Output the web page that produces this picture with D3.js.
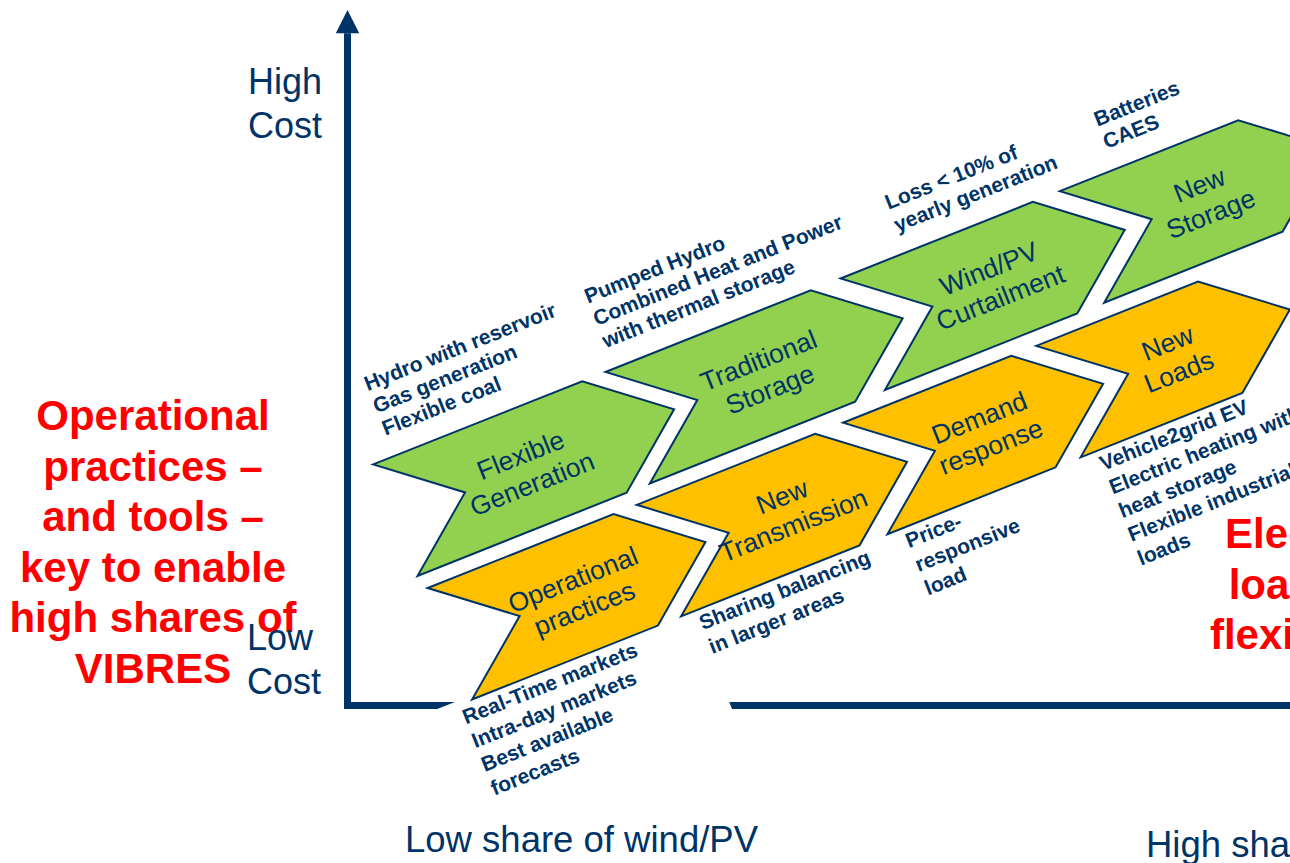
<!DOCTYPE html>
<html>
<head>
<meta charset="utf-8">
<script src="https://cdn.jsdelivr.net/npm/d3@7"></script>
<style>
  html, body { margin: 0; padding: 0; background: #fff; }
  svg { display: block; font-family: "Liberation Sans", Arial, Helvetica, sans-serif; }
</style>
</head>
<body>
<div id="chart"></div>
<script>
// Flexibility options along the path of increasing wind/PV share (0–100 along the band)
const supplyLabels = [["Flexible", "Generation"], ["Traditional", "Storage"], ["Wind/PV", "Curtailment"], ["New", "Storage"]];
const supplyStart  = [2.5, 27.5, 52.8, 76.4];
const supplyEnd    = [25.0, 49.6, 73.5, 95.6];
const supplyNotes  = [
  ["Hydro with reservoir", "Gas generation", "Flexible coal"],
  ["Pumped Hydro", "Combined Heat and Power", "with thermal storage"],
  ["Loss < 10% of", "yearly generation"],
  ["Batteries", "CAES"]
];
const supplyNoteAt = [4.7, 28.4, 59.8, 82.3];

const gridLabels = [["Operational", "practices"], ["New", "Transmission"], ["Demand", "response"], ["New", "Loads"]];
const gridStart  = [3.0, 25.5, 47.7, 68.5];
const gridEnd    = [23.0, 44.7, 65.8, 85.9];
const gridNotes  = [
  ["Real-Time markets", "Intra-day markets", "Best available", "forecasts"],
  ["Sharing balancing", "in larger areas"],
  ["Price-", "responsive", "load"],
  ["Vehicle2grid EV", "Electric heating with", "heat storage", "Flexible industrial", "loads"]
];
const gridNoteAt = [1.5, 27.0, 49.2, 70.1];

const rowNames = ["supply", "grid"];
const costLabelsHigh = ["High", "Cost"];
const costLabelsLow  = ["Low", "Cost"];
const shareLabels    = ["Low share of wind/PV", "High share of wind/PV"];
const leftMessage  = ["Operational", "practices \u2013", "and tools \u2013", "key to enable", "high shares of", "VIBRES"];
const rightMessage = ["Electric", "loads \u2013", "flexibility"];

// ---- layout ----
const W = 1290, HGT = 863;
const NAVY = "#003366", GREEN = "#92D050", ORANGE = "#FFC000", RED = "#FF0000";
const ANGLE = -21.7;          // tilt of the staircase band
const CH = 120, TIP = 75;     // chevron thickness and point depth (band units)
const TITLE_SHIFT = { supply: [28, 36, 38, 36], grid: [38, 42, 38, 36] };

const along = d3.scaleLinear().domain([0, 100]).range([150, 1150]);
const rowY  = d3.scaleOrdinal().domain(rowNames).range([569.5, 704.5]);

const axisX = d3.scaleLinear().domain([0, 1]).range([347.5, 1295]);
const axisY = d3.scaleLinear().domain([0, 1]).range([705.5, 33.3]);

const svg = d3.select("#chart").append("svg")
  .attr("width", W).attr("height", HGT).attr("viewBox", `0 0 ${W} ${HGT}`);

// ---- axes ----
const axes = svg.append("g");
axes.append("path")
  .attr("d", `M${axisX(0)},${axisY(0) + 3.5} L${axisX(0)},${axisY(1)}`)
  .attr("stroke", NAVY).attr("stroke-width", 7).attr("fill", "none");
axes.append("path")
  .attr("d", `M${axisX(0) - 3.5},${axisY(0)} L${axisX(1)},${axisY(0)}`)
  .attr("stroke", NAVY).attr("stroke-width", 7).attr("fill", "none");
axes.append("path")
  .attr("d", `M${axisX(0) - 11.7},${axisY(1)} L${axisX(0)},10 L${axisX(0) + 11.7},${axisY(1)} Z`)
  .attr("fill", NAVY);

// ---- tilted band ----
const band = svg.append("g").attr("transform", `rotate(${ANGLE})`);

const supply = supplyLabels.map((l, i) => ({ row: "supply", i, label: l, s: supplyStart[i], e: supplyEnd[i], notes: supplyNotes[i], noteAt: supplyNoteAt[i], fill: GREEN }));
const grid = gridLabels.map((l, i) => ({ row: "grid", i, label: l, s: gridStart[i], e: gridEnd[i], notes: gridNotes[i], noteAt: gridNoteAt[i], fill: ORANGE }));
const items = supply.concat(grid);

// white backing of the note blocks under the lower row
band.append("g").selectAll("rect").data(grid).join("rect")
  .attr("x", d => along(d.noteAt) - 25)
  .attr("y", d => rowY(d.row) + CH - 4)
  .attr("width", 278)
  .attr("height", d => d.notes.length * 25.5 + 15)
  .attr("fill", "#fff");

function chevron(d) {
  const x0 = along(d.s), x1 = along(d.e), y0 = rowY(d.row);
  return [
    [x0, y0], [x1, y0], [x1 + TIP, y0 + CH / 2], [x1, y0 + CH], [x0, y0 + CH], [x0 + TIP, y0 + CH / 2]
  ];
}

band.append("g").selectAll("path").data(items).join("path")
  .attr("d", d => "M" + chevron(d).map(p => p.join(",")).join("L") + "Z")
  .attr("fill", d => d.fill)
  .attr("stroke", NAVY)
  .attr("stroke-width", 2)
  .attr("stroke-linejoin", "miter");

// chevron titles
const titleX = d => (along(d.s) + along(d.e)) / 2 + TITLE_SHIFT[d.row][d.i];
const titles = band.append("g").selectAll("text").data(items).join("text")
  .attr("text-anchor", "middle")
  .attr("fill", NAVY)
  .attr("font-size", 26.5)
  .attr("x", titleX)
  .attr("y", d => rowY(d.row) + CH / 2 - 5);
titles.selectAll("tspan").data(d => d.label.map((t, k) => ({ t, k, x: titleX(d) }))).join("tspan")
  .attr("x", d => d.x)
  .attr("dy", d => d.k === 0 ? 0 : 31)
  .text(d => d.t);

// notes above the upper row (bottom aligned)
const topNotes = band.append("g").selectAll("text").data(supply).join("text")
  .attr("fill", NAVY).attr("font-weight", "bold").attr("font-size", 21)
  .attr("x", d => along(d.noteAt))
  .attr("y", d => rowY(d.row) - 22 - (d.notes.length - 1) * 24);
topNotes.selectAll("tspan").data(d => d.notes.map((t, k) => ({ t, k, x: along(d.noteAt) }))).join("tspan")
  .attr("x", d => d.x).attr("dy", d => d.k === 0 ? 0 : 24).text(d => d.t);

// notes below the lower row
const botNotes = band.append("g").selectAll("text").data(grid).join("text")
  .attr("fill", NAVY).attr("font-weight", "bold").attr("font-size", 21)
  .attr("x", d => along(d.noteAt))
  .attr("y", d => rowY(d.row) + CH + 21);
botNotes.selectAll("tspan").data(d => d.notes.map((t, k) => ({ t, k, x: along(d.noteAt) }))).join("tspan")
  .attr("x", d => d.x).attr("dy", d => d.k === 0 ? 0 : 25.5).text(d => d.t);

// ---- messages ----
svg.append("g").selectAll("text").data(leftMessage).join("text")
  .attr("x", 153).attr("y", (d, i) => 430 + i * 50.5)
  .attr("text-anchor", "middle").attr("fill", RED)
  .attr("font-weight", "bold").attr("font-size", 42)
  .text(d => d);

svg.append("g").selectAll("text").data(rightMessage).join("text")
  .attr("x", 1301).attr("y", (d, i) => 548 + i * 50.5)
  .attr("text-anchor", "middle").attr("fill", RED)
  .attr("font-weight", "bold").attr("font-size", 42)
  .text(d => d);

// ---- axis captions ----
svg.append("g").selectAll("text").data(costLabelsHigh).join("text")
  .attr("x", 248).attr("y", (d, i) => 94 + i * 43.5)
  .attr("fill", NAVY).attr("font-size", 36).text(d => d);
svg.append("g").selectAll("text").data(costLabelsLow).join("text")
  .attr("x", 247).attr("y", (d, i) => 650 + i * 43.5)
  .attr("fill", NAVY).attr("font-size", 36).text(d => d);

svg.append("g").selectAll("text").data(shareLabels).join("text")
  .attr("x", (d, i) => i === 0 ? 405 : 1146)
  .attr("y", (d, i) => i === 0 ? 851.5 : 856.5)
  .attr("fill", NAVY).attr("font-size", 36.5).text(d => d);
</script>
</body>
</html>
